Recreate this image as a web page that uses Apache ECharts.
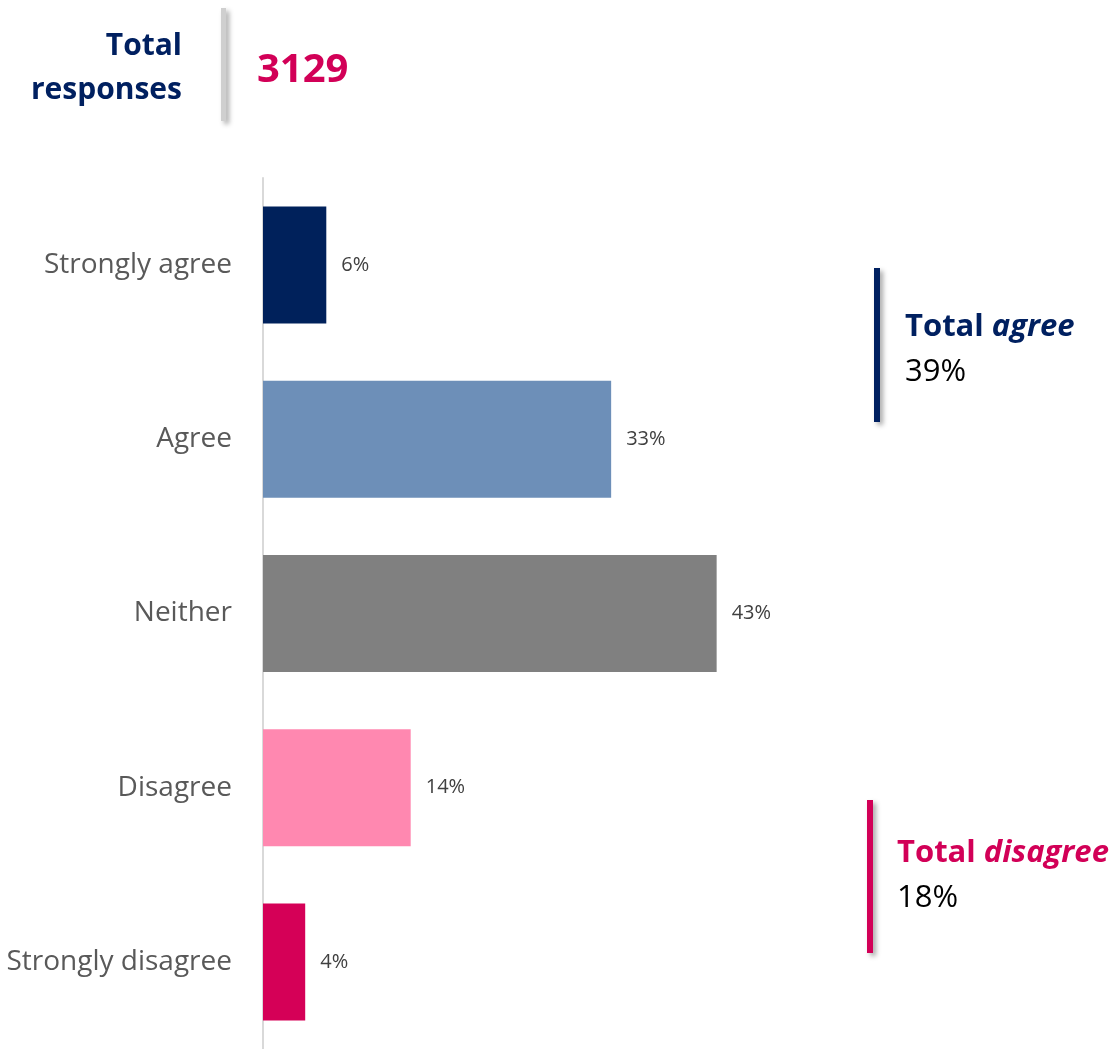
<!DOCTYPE html>
<html>
<head>
<meta charset="utf-8">
<script src="https://cdn.jsdelivr.net/npm/echarts@6/dist/echarts.min.js"></script>
<style>
  html, body { margin: 0; padding: 0; background: #ffffff; }
  #chart { width: 1120px; height: 1049px; }
</style>
</head>
<body>
<div id="chart"></div>
<script>
// Survey response shares
const categories = ['Strongly agree', 'Agree', 'Neither', 'Disagree', 'Strongly disagree'];
const shares = [6, 33, 43, 14, 4];
const barColors = ['#00215B', '#6D8FB8', '#808080', '#FF88B0', '#D50057'];
const totalResponses = 3129;
const totalAgree = 39;
const totalDisagree = 18;

const NAVY = '#002060';
const PINK = '#D20057';
const FONT = '"Open Sans", "Noto Sans", sans-serif';

const chart = echarts.init(document.getElementById('chart'), null, { renderer: 'canvas' });

const shadow = {
  shadowBlur: 5,
  shadowOffsetX: 3,
  shadowOffsetY: 3,
  shadowColor: 'rgba(0,0,0,0.35)'
};

chart.setOption({
  animation: false,
  backgroundColor: '#ffffff',
  grid: { left: 263, top: 178, bottom: 0, width: 527.5, containLabel: false },
  xAxis: {
    type: 'value',
    min: 0,
    max: 50,
    show: false
  },
  yAxis: {
    type: 'category',
    data: categories,
    inverse: true,
    axisLine: { show: true, lineStyle: { color: '#D9D9D9', width: 2 } },
    axisTick: { show: false },
    axisLabel: {
      margin: 31,
      color: '#595959',
      fontFamily: FONT,
      fontSize: 28
    },
    splitLine: { show: false }
  },
  series: [{
    type: 'bar',
    data: shares.map((v, i) => ({ value: v, itemStyle: { color: barColors[i] } })),
    barWidth: 117,
    label: {
      show: true,
      position: 'right',
      distance: 15,
      formatter: p => p.value + '%',
      color: '#404040',
      fontFamily: FONT,
      fontSize: 20
    }
  }],
  graphic: [
    // header: total responses
    {
      type: 'text', x: 182, y: 46,
      style: { text: 'Total', font: 'bold 30px ' + FONT, fill: NAVY, textAlign: 'right', textVerticalAlign: 'middle' }
    },
    {
      type: 'text', x: 182, y: 90,
      style: { text: 'responses', font: 'bold 30px ' + FONT, fill: NAVY, textAlign: 'right', textVerticalAlign: 'middle' }
    },
    {
      type: 'rect', shape: { x: 221, y: 8, width: 5, height: 113 },
      style: Object.assign({ fill: '#CFCFCF' }, shadow)
    },
    {
      type: 'text', x: 257, y: 71,
      style: { text: String(totalResponses), font: 'bold 40px ' + FONT, fill: PINK, textAlign: 'left', textVerticalAlign: 'middle' }
    },
    // total agree callout
    {
      type: 'rect', shape: { x: 874, y: 268, width: 6, height: 154 },
      style: Object.assign({ fill: NAVY }, shadow)
    },
    {
      type: 'text', x: 905, y: 327,
      style: {
        text: '{b|Total }{bi|agree}',
        textAlign: 'left', textVerticalAlign: 'middle',
        rich: {
          b: { font: 'bold 31px ' + FONT, fill: NAVY },
          bi: { font: 'italic bold 31px ' + FONT, fill: NAVY }
        }
      }
    },
    {
      type: 'text', x: 905, y: 372,
      style: { text: totalAgree + '%', font: '31px ' + FONT, fill: '#000000', textAlign: 'left', textVerticalAlign: 'middle' }
    },
    // total disagree callout
    {
      type: 'rect', shape: { x: 867, y: 800, width: 6, height: 153 },
      style: Object.assign({ fill: PINK }, shadow)
    },
    {
      type: 'text', x: 897, y: 853,
      style: {
        text: '{b|Total }{bi|disagree}',
        textAlign: 'left', textVerticalAlign: 'middle',
        rich: {
          b: { font: 'bold 31px ' + FONT, fill: PINK },
          bi: { font: 'italic bold 31px ' + FONT, fill: PINK }
        }
      }
    },
    {
      type: 'text', x: 897, y: 898,
      style: { text: totalDisagree + '%', font: '31px ' + FONT, fill: '#000000', textAlign: 'left', textVerticalAlign: 'middle' }
    }
  ]
});
</script>
</body>
</html>
